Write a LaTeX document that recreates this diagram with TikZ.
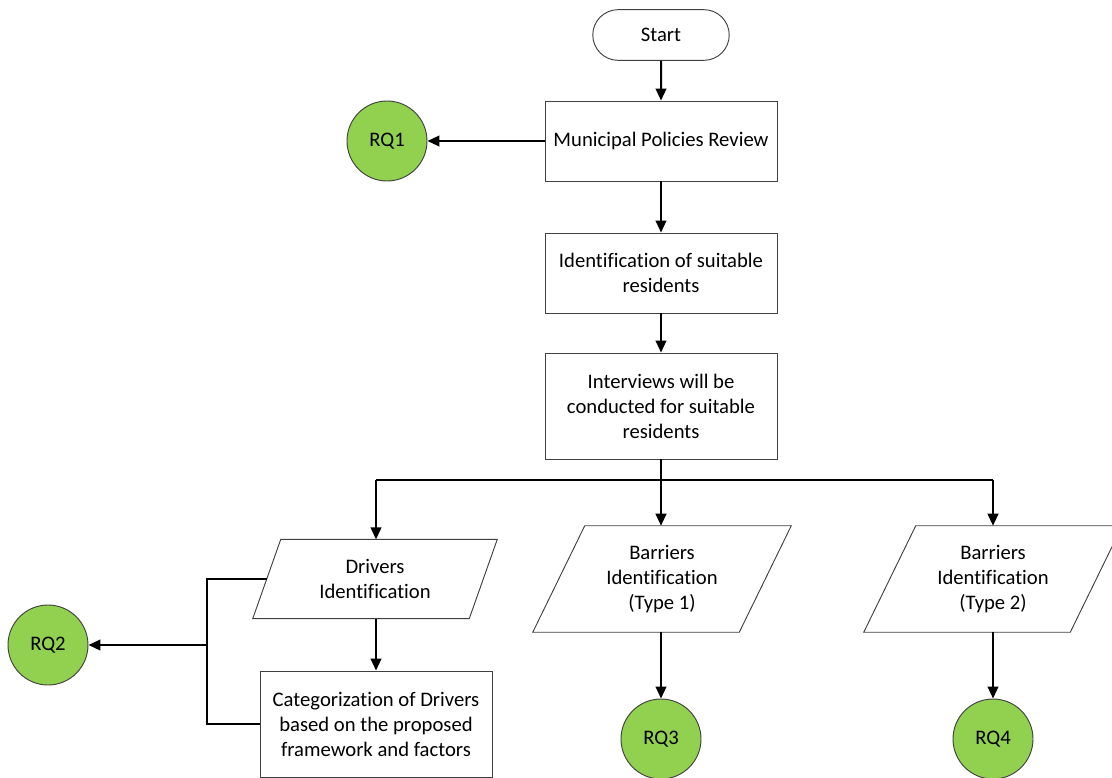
\documentclass[tikz,border=0pt]{standalone}
\usepackage{fontspec}
\setmainfont{Carlito}[Ligatures=NoCommon]
\usetikzlibrary{positioning,calc,arrows.meta,shapes.misc}
\definecolor{RqGreen}{RGB}{146,208,80}
\definecolor{EdgeGray}{RGB}{64,64,64}
\tikzset{
  txt/.style={font=\fontsize{15.5}{18.75}\selectfont,align=center,text=black},
  edge/.style={draw=EdgeGray,line width=0.7pt},
  term/.style={txt,edge,rounded rectangle,minimum width=109pt,minimum height=38pt},
  box/.style={txt,edge,rectangle,fill=white,minimum width=174pt,
    minimum height=60pt,inner sep=2pt},
  tallbox/.style={box,minimum height=79.5pt},
  drvdata/.style={txt,rectangle,minimum width=162pt,minimum height=59pt,inner sep=2pt},
  bardata/.style={drvdata,minimum width=154.5pt,minimum height=79.5pt},
  rq/.style={txt,edge,circle,fill=RqGreen,minimum size=60pt,inner sep=0pt},
  link/.style={draw=black,line width=1.5pt},
  arr/.style={link,-{Triangle[length=9pt,width=8pt]}},
}
\begin{document}
\begin{tikzpicture}[x=0.75pt,y=-0.75pt]
  \useasboundingbox (0,0) rectangle (1112,777);

  \node[term] (start) at (661,35) {Start};
  \node[box] (mpr) at (661,141) {Municipal Policies Review};
  \node[rq] (rq1) at (387,141) {RQ1};
  \node[box] (ident) at (661,273) {Identification of suitable\\residents};
  \node[tallbox] (intv) at (661,406) {Interviews will be\\conducted for suitable\\residents};

  \coordinate (bus) at (661,480);
  \coordinate (busL) at (376,480);
  \coordinate (busR) at (993,480);

  \node[drvdata] (drv) at (375,579) {Drivers\\Identification};
  \node[bardata] (bar1) at (662,579) {Barriers\\Identification\\(Type 1)};
  \node[bardata] (bar2) at (993,579) {Barriers\\Identification\\(Type 2)};
  \node[tallbox] (cat) at (376,724)
    {Categorization of Drivers\\based on the proposed\\framework and factors};
  \node[rq] (rq2) at (48,645) {RQ2};
  \node[rq] (rq3) at (661,739) {RQ3};
  \node[rq] (rq4) at (993,739) {RQ4};
  \coordinate (brk) at (207,645);

  % slanted data shapes
  \foreach \n/\s in {drv/14,bar1/26,bar2/26}
    \draw[edge] ($(\n.north west)+(\s,0)$) -- ($(\n.north east)+(\s,0)$)
      -- ($(\n.south east)+(-\s,0)$) -- ($(\n.south west)+(-\s,0)$) -- cycle;

  \draw[arr] (start) -- (mpr);
  \draw[arr] (mpr.west) -- (rq1.east);
  \draw[arr] (mpr) -- (ident);
  \draw[arr] (ident) -- (intv);
  \draw[link] (intv.south) -- (bus);
  \draw[link] (busL) -- (busR);
  \foreach \c/\n in {busL/drv,bus/bar1,busR/bar2}
    \draw[arr] (\c) -- (\c |- \n.north);
  \draw[arr] (drv.south -| busL) -- (cat);
  \draw[arr] (bar1.south -| bus) -- (rq3);
  \draw[arr] (bar2.south -| busR) -- (rq4);
  \draw[link] (drv.west) -| (brk) |- (cat.west);
  \draw[arr] (brk) -- (rq2);
\end{tikzpicture}
\end{document}
